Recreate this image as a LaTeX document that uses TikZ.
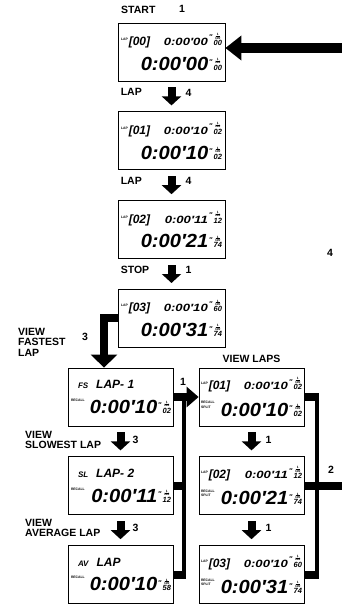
\documentclass[tikz,border=0pt]{standalone}
\usepackage{fontspec}
\setmainfont{Liberation Sans}
\usepackage{graphicx}
\usetikzlibrary{positioning,arrows.meta,calc}

% LCD bits
\newcommand{\tinytag}[1]{{\fontsize{3.4}{3.6}\selectfont\bfseries\upshape #1}}
\newcommand{\hsec}[1]{\raisebox{1.05ex}{\fontsize{7}{7}\selectfont\bfseries\upshape ″}\hspace{1pt}%
  \vbox{\offinterlineskip\halign{\hfil##\hfil\cr
  \fontsize{3.2}{3.2}\selectfont\bfseries\upshape 1\cr\noalign{\kern0.2pt}
  \rule{4.5pt}{0.3pt}\cr\noalign{\kern0.6pt}
  \fontsize{3.2}{3.2}\selectfont\bfseries\upshape 100\cr\noalign{\kern1.2pt}
  \fontsize{7.5}{7.5}\selectfont\bfseries\itshape #1\cr}}}
\newcommand{\toprow}[4]{\raisebox{5pt}{\tinytag{#1}}\hspace{1pt}{\fontsize{12}{12}\selectfont\bfseries\itshape #2}\hfill
  \scalebox{1.25}[1]{\fontsize{10.5}{10.5}\selectfont\bfseries\itshape #3}\hspace{1.5pt}\hsec{#4}}
\newcommand{\bigrow}[3]{#1\hfill\scalebox{1.06}[1]{\fontsize{19}{19}\selectfont\bfseries\itshape #2}\hspace{1pt}\hsec{#3}}
\newcommand{\recsplit}{\raisebox{8pt}{\vbox{\offinterlineskip\hbox{\tinytag{RECALL}}\kern2pt\hbox{\tinytag{SPLIT}}}}}
\newcommand{\recall}{\hspace{1pt}\raisebox{12pt}{\tinytag{RECALL}}}
\newcommand{\modeline}[2]{\hspace{8pt}{\fontsize{8}{8}\selectfont\bfseries\itshape #1}\hspace{8pt}{\fontsize{12}{12}\selectfont\bfseries\itshape #2}}

\begin{document}
\begin{tikzpicture}[x=1pt,y=1pt,node distance=30pt,
  lcd/.style={draw, line width=0.8pt, minimum width=107pt, minimum height=58pt,
    text width=101pt, align=left, inner sep=0pt, font=\fontsize{10}{10}\selectfont},
  side/.style={lcd, minimum width=105pt, text width=101pt},
  lbl/.style={font=\bfseries\fontsize{10.5}{10.5}\selectfont, inner sep=0pt},
  blk/.style={line width=8pt, -{Triangle[length=9pt,width=19pt]}, shorten <=6pt, shorten >=6pt},
  bar/.style={line width=8pt},
  rail/.style={line width=4.5pt}]
\useasboundingbox (0,0) rectangle (342,-604);

% main column
\node (m1) [lcd] at (171.5,-52) {\toprow{LAP}{[00]}{0:00′00}{00}\\[8pt]\bigrow{}{0:00′00}{00}};
\node (m2) [lcd, below=of m1] {\toprow{LAP}{[01]}{0:00′10}{02}\\[8pt]\bigrow{}{0:00′10}{02}};
\node (m3) [lcd, below=of m2] {\toprow{LAP}{[02]}{0:00′11}{12}\\[8pt]\bigrow{}{0:00′21}{74}};
\node (m4) [lcd, below=of m3] {\toprow{LAP}{[03]}{0:00′10}{60}\\[8pt]\bigrow{}{0:00′31}{74}};

% recall column
\node (fs) [side] at (120.5,-397) {\modeline{FS}{LAP- 1}\\[9pt]\bigrow{\recall}{0:00′10}{02}};
\node (sl) [side, below=of fs] {\modeline{SL}{LAP- 2}\\[9pt]\bigrow{\recall}{0:00′11}{12}};
\node (av) [side, below=of sl] {\modeline{AV}{LAP}\\[9pt]\bigrow{\recall}{0:00′10}{58}};

% lap column
\node (rb1) [side] at (251.5,-397) {\toprow{LAP}{[01]}{0:00′10}{02}\\[8pt]\bigrow{\recsplit}{0:00′10}{02}};
\node (rb2) [side, below=of rb1] {\toprow{LAP}{[02]}{0:00′11}{12}\\[8pt]\bigrow{\recsplit}{0:00′21}{74}};
\node (rb3) [side, below=of rb2] {\toprow{LAP}{[03]}{0:00′10}{60}\\[8pt]\bigrow{\recsplit}{0:00′31}{74}};

% labels
\node (tstart) [lbl, anchor=west] at (121,-10) {START};
\node (kstart) [lbl] at (182,-9) {1};
\node (tlap1) [lbl, below right=7pt and 3pt of m1.south west] {LAP};
\node (tlap2) [lbl, below right=7pt and 3pt of m2.south west] {LAP};
\node (tstop) [lbl, below right=7pt and 3pt of m3.south west] {STOP};
\node (k12) [lbl, anchor=west] at ($(m1.south)+(14,-11)$) {4};
\node (k23) [lbl, anchor=west] at ($(m2.south)+(14,-11)$) {4};
\node (k34) [lbl, anchor=west] at ($(m3.south)+(14,-11)$) {1};
\node (tfast) [lbl, align=left, anchor=north west] at (18,-328) {VIEW\\FASTEST\\LAP};
\node (kfast) [lbl] at (85,-337) {3};
\node (tslow) [lbl, align=left, anchor=north west] at (25,-431) {VIEW\\SLOWEST LAP};
\node (kslow) [lbl, anchor=west] at ($(fs.south)+(12,-13)$) {3};
\node (tavg) [lbl, align=left, anchor=north west] at (25,-519) {VIEW\\AVERAGE LAP};
\node (kavg) [lbl, anchor=west] at ($(sl.south)+(12,-13)$) {3};
\node (tlaps) [lbl, above=5pt of rb1] {VIEW LAPS};
\node (kin) [lbl] at (183,-382) {1};
\node (kr12) [lbl, anchor=west] at ($(rb1.south)+(14,-13)$) {1};
\node (kr23) [lbl, anchor=west] at ($(rb2.south)+(14,-13)$) {1};
\node (kret) [lbl] at (330,-253) {4};
\node (kout) [lbl] at (331,-470) {2};

% helper points
\coordinate (ret) at (342,-48);
\coordinate (ex) at (104,0);
\coordinate (lx) at (184,0);
\coordinate (rx) at (317,0);
\coordinate (edge) at (342,0);

% arrows
\draw[line width=10pt, -{Triangle[length=16pt,width=24pt]}] (ret) -- (ret -| m1.east);
\draw[blk] (m1) -- (m2);
\draw[blk] (m2) -- (m3);
\draw[blk] (m3) -- (m4);
\draw[line width=8pt, -{Triangle[length=13pt,width=26pt]}] (m4.west) -| (ex |- fs.north);
\draw[blk] (fs) -- (sl);
\draw[blk] (sl) -- (av);
\draw[blk] (rb1) -- (rb2);
\draw[blk] (rb2) -- (rb3);

% rails
\draw[rail, shorten <=-4pt, shorten >=-4pt] (fs.east -| lx) -- (av.east -| lx);
\draw[bar, shorten >=-2.25pt] (sl.east) -- (sl.east -| lx);
\draw[bar, shorten >=-2.25pt] (av.east) -- (av.east -| lx);
\draw[line width=8pt, -{Triangle[length=12pt,width=20pt]}] (fs) -- (rb1);
\draw[rail, shorten <=-4pt, shorten >=-4pt] (rb1.east -| rx) -- (rb3.east -| rx);
\draw[bar, shorten >=-2.25pt] (rb1.east) -- (rb1.east -| rx);
\draw[bar, shorten >=-2.25pt] (rb3.east) -- (rb3.east -| rx);
\draw[bar] (rb2.east) -- (rb2.east -| edge);

\end{tikzpicture}
\end{document}
